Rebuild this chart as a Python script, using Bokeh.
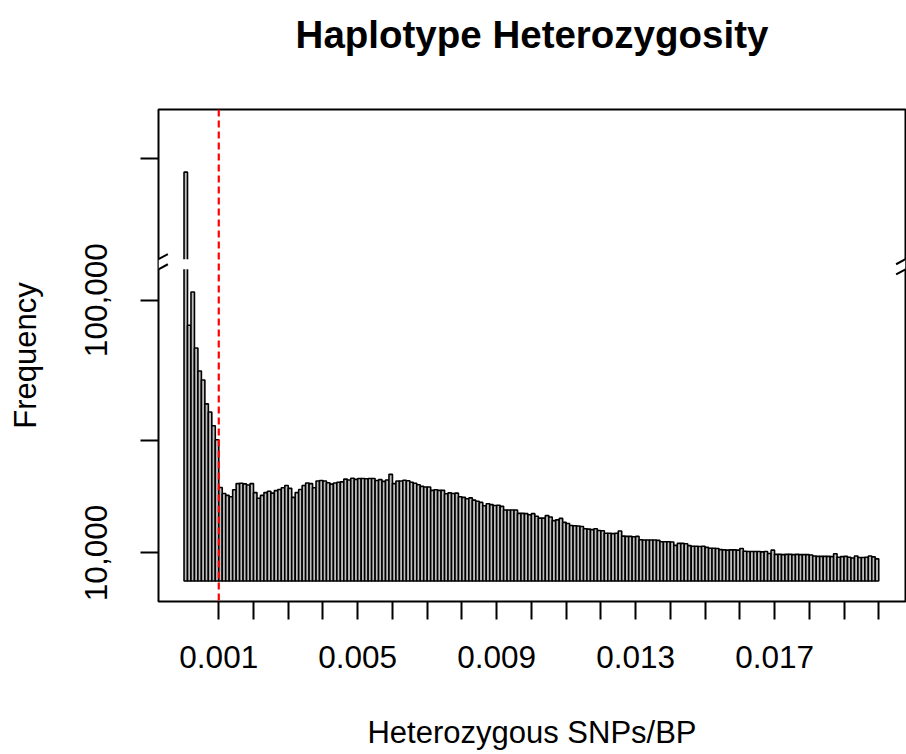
import numpy as np
from bokeh.plotting import figure
from bokeh.models import (Range1d, FixedTicker, Span, BoxAnnotation, Arrow,
                          ColumnDataSource, Title)
from bokeh.embed import file_html
from bokeh.resources import INLINE

# ---------------- data ----------------
BIN_WIDTH = 0.0001
bin_centers = [round((i + 0.5) * BIN_WIDTH, 6) for i in range(200)]

frequency = [
    495000, 91100, 102900, 83000, 74800, 71600, 63100, 60200, 55300, 50300,
    33300, 31200, 30500, 30000, 32500, 34700, 34800, 34600, 34200, 34700,
    31500, 29500, 30500, 31500, 32000, 31300, 32200, 32600, 33200, 34000,
    33000, 29800, 31500, 32600, 34000, 34900, 34700, 33200, 35600, 35800,
    35600, 35000, 34500, 34900, 35200, 35300, 36300, 36000, 36600, 36200,
    36500, 36500, 36400, 36500, 36500, 35800, 36100, 35500, 36000, 38000,
    34700, 35600, 35600, 35900, 35700, 35200, 34800, 34300, 33700, 33500,
    33500, 32300, 32500, 32300, 32300, 31100, 31400, 31200, 31300, 30000,
    29800, 29300, 29600, 28800, 28400, 28000, 26800, 27500, 27200, 26900,
    27000, 26600, 25300, 25300, 25300, 25300, 24100, 24100, 24000, 23600,
    24000, 23100, 22400, 22400, 23300, 22800, 21500, 21800, 22300, 20900,
    20500, 19800, 19700, 19600, 19400, 18600, 18500, 18300, 18600, 18000,
    17900, 17000, 17000, 16900, 17000, 17800, 16000, 15900, 15900, 15800,
    15900, 14700, 14600, 14600, 14600, 14600, 14500, 14000, 14000, 14000,
    13900, 12700, 13400, 13400, 13300, 12600, 12400, 12400, 12300, 12400,
    12000, 11700, 11700, 11600, 11200, 11100, 11000, 11100, 11100, 11000,
    11600, 10600, 10500, 10500, 10500, 10500, 10400, 10500, 9800, 11000,
    9500, 9500, 9400, 9500, 9500, 9400, 9500, 9400, 9400, 9400,
    9300, 8900, 8800, 8800, 8800, 8800, 8700, 9700, 8500, 8700,
    8800, 8500, 8200, 8900, 8400, 8400, 8500, 8900, 8600, 7900,
]

x_tick_values = [round(k * 0.001, 3) for k in range(1, 21)]
x_tick_labels = {0.001: "0.001", 0.005: "0.005", 0.009: "0.009",
                 0.013: "0.013", 0.017: "0.017"}
y_tick_values = [10000, 50000, 100000, 500000]
y_tick_labels = ["10,000", "", "100,000", ""]

GAP = (112800, 462200)       # y-axis break (lower segment ends, upper resumes)
THRESHOLD = 0.001            # red dashed cut-off line

TITLE = "Haplotype Heterozygosity"
XLABEL = "Heterozygous SNPs/BP"
YLABEL = "Frequency"

# ---------------- broken axis transform ----------------
SHIFT = GAP[1] - GAP[0]


def to_display(v):
    return v if v <= GAP[0] else v - SHIFT


tops = [to_display(v) for v in frequency]
src = ColumnDataSource(dict(x=bin_centers, top=tops))

FONT = "Liberation Sans"

p = figure(width=906, height=754, output_backend="svg", toolbar_location=None,
           title=None,
           x_range=Range1d(-0.000735, 0.02077), y_range=Range1d(-7280, 167900),
           min_border_left=158, min_border_right=1, min_border_top=108,
           min_border_bottom=153)
p.background_fill_color = "white"
p.border_fill_color = "white"
p.outline_line_color = "black"
p.outline_line_width = 2
p.xgrid.visible = False
p.ygrid.visible = False

# spacer (closest to the frame) then the real title (outermost)
p.add_layout(Title(text=" ", text_font_size="1px", standoff=40), "above")
p.add_layout(Title(text=TITLE, align="center", text_font=FONT,
                   text_font_size="38.5px", text_font_style="bold",
                   text_color="black", standoff=21, offset=0), "above")

p.vbar(x="x", width=BIN_WIDTH, top="top", bottom=0, source=src,
       fill_color="#BEBEBE", line_color="black", line_width=1.6)

# gap band
band_half = 1800
p.add_layout(BoxAnnotation(bottom=GAP[0] - band_half, top=GAP[0] + band_half,
                           fill_color="white", fill_alpha=1.0, line_color=None))

# break marks on both vertical edges
xr0, xr1 = -0.000735, 0.02077
dx = 0.00027
for xc in (xr0, xr1):
    for yc in (GAP[0] - band_half, GAP[0] + band_half):
        p.add_layout(Arrow(end=None, x_start=xc - dx, y_start=yc - 1800,
                           x_end=xc + dx, y_end=yc + 1800,
                           line_color="black", line_width=2))

p.add_layout(Span(location=THRESHOLD, dimension="height", line_color="red",
                  line_dash="7 4", line_width=2.2))

# x axis
xa = p.xaxis[0]
xa.ticker = FixedTicker(ticks=x_tick_values)
xa.major_label_overrides = {t: x_tick_labels.get(t, "") for t in x_tick_values}
xa.minor_tick_line_color = None
xa.major_tick_in = 0
xa.major_tick_out = 18
xa.major_tick_line_width = 2
xa.axis_line_color = None
xa.major_label_text_font = FONT
xa.major_label_text_font_size = "31.5px"
xa.major_label_text_color = "black"
xa.major_label_standoff = 26
xa.axis_label = XLABEL
xa.axis_label_text_font = FONT
xa.axis_label_text_font_size = "31px"
xa.axis_label_text_font_style = "normal"
xa.axis_label_text_color = "black"
xa.axis_label_standoff = 44

# y axis
ya = p.yaxis[0]
y_disp = [to_display(v) for v in y_tick_values]
ya.ticker = FixedTicker(ticks=y_disp)
ya.major_label_overrides = {t: l for t, l in zip(y_disp, y_tick_labels)}
ya.minor_tick_line_color = None
ya.major_tick_in = 0
ya.major_tick_out = 18
ya.major_tick_line_width = 2
ya.axis_line_color = None
ya.major_label_orientation = "parallel"
ya.major_label_text_font = FONT
ya.major_label_text_font_size = "31.5px"
ya.major_label_text_color = "black"
ya.major_label_standoff = 33
ya.axis_label = YLABEL
ya.axis_label_text_font = FONT
ya.axis_label_text_font_size = "31px"
ya.axis_label_text_font_style = "normal"
ya.axis_label_text_color = "black"
ya.axis_label_standoff = 40

open("out.html", "w").write(file_html(p, INLINE))
